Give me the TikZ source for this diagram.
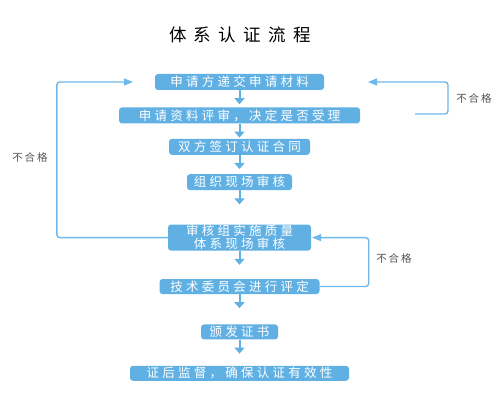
\documentclass[tikz,border=0pt]{standalone}
\usepackage{fontspec}
\usetikzlibrary{positioning,arrows.meta}

\newfontfamily\titlefont[LetterSpace=42]{Noto Sans CJK SC}
\newfontfamily\boxfont[LetterSpace=26]{Noto Sans CJK SC}
\newfontfamily\notefont[LetterSpace=18]{Noto Sans CJK SC}

\definecolor{boxblue}{RGB}{96,176,228}
\definecolor{lineblue}{RGB}{110,184,234}
\definecolor{notegray}{RGB}{85,85,85}

\tikzset{
	stepbox/.style={fill=boxblue, text=white, rounded corners=3pt, inner sep=0pt,
		minimum height=16pt, font=\boxfont\fontsize{12.5}{13}\selectfont},
	flow/.style={draw=boxblue, line width=2pt, -{Triangle[length=6pt,width=10pt]}},
	back/.style={draw=lineblue, line width=1.4pt, rounded corners=3pt, -{Triangle[length=9pt,width=7pt]}},
	note/.style={text=notegray, inner sep=0pt, font=\notefont\fontsize{10.5}{11}\selectfont}
}

\begin{document}
\begin{tikzpicture}[x=1pt, y=-1pt]
	\useasboundingbox (0,0) rectangle (500,406);
	\node[font=\titlefont\fontsize{17.5}{18}\selectfont, inner sep=0pt] (title) at (240,35) {体系认证流程};

	\node[stepbox, minimum width=169pt] (b1) at (239.5,82) {申请方递交申请材料};
	\node[stepbox, minimum width=241pt, below=17pt of b1] (b2) {申请资料评审，决定是否受理};
	\node[stepbox, minimum width=141pt, below=15pt of b2] (b3) {双方签订认证合同};
	\node[stepbox, minimum width=105pt, below=19pt of b3] (b4) {组织现场审核};
	\node[stepbox, minimum width=143pt, minimum height=26pt, align=center, below=34pt of b4] (b5) {审核组实施质量\\体系现场审核};
	\node[stepbox, minimum width=160pt, minimum height=15pt, below=28pt of b5] (b6) {技术委员会进行评定};
	\node[stepbox, minimum width=77pt, minimum height=15pt, below=30pt of b6] (b7) {颁发证书};
	\node[stepbox, minimum width=219pt, minimum height=15pt, below=26pt of b7] (b8) {证后监督，确保认证有效性};

	% main flow
	\draw[flow, shorten >=3pt] (b1) -- (b2);
	\draw[flow, shorten >=1pt] (b2) -- (b3);
	\draw[flow, shorten >=5pt] (b3) -- (b4);
	\draw[flow, shorten >=20pt] (b4) -- (b5);
	\draw[flow, shorten >=14pt] (b5) -- (b6);
	\draw[flow, shorten >=16pt] (b6) -- (b7);
	\draw[flow, shorten >=12pt] (b7) -- (b8);

	% return loops
	\coordinate (in1) at (133,82);
	\coordinate (in2) at (368,82);
	\coordinate (out2) at (415,114);
	\draw[back] (b5.west) -- ++(-111,0) |- (in1);
	\draw[back] (out2) -- ++(33,0) |- (in2);
	\draw[back] (b6.east) -- ++(49,0) |- ([xshift=1pt]b5.east);

	\node[note] (n1) at (30,157) {不合格};
	\node[note] (n2) at (474,99) {不合格};
	\node[note] (n3) at (394,258) {不合格};
\end{tikzpicture}
\end{document}
